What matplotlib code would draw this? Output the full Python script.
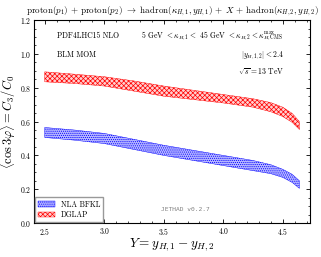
import matplotlib
matplotlib.use('Agg')
import matplotlib.pyplot as plt
import numpy as np
from matplotlib.ticker import MultipleLocator

plt.rcParams['font.family'] = 'serif'
plt.rcParams['font.serif'] = ['cmr10', 'DejaVu Serif']
plt.rcParams['mathtext.fontset'] = 'cm'
plt.rcParams['axes.formatter.use_mathtext'] = True
plt.rcParams['hatch.linewidth'] = 0.5

# rapidity interval Y
Y = [2.5, 2.75, 3.0, 3.25, 3.5, 3.75, 4.0, 4.25, 4.4, 4.5, 4.58, 4.64]
# NLA BFKL band
bfkl_hi = [0.565, 0.55, 0.53, 0.495, 0.46, 0.43, 0.40, 0.37, 0.345, 0.318, 0.288, 0.25]
bfkl_lo = [0.506, 0.49, 0.47, 0.435, 0.40, 0.37, 0.34, 0.31, 0.292, 0.27, 0.24, 0.205]
# DGLAP band
dglap_hi = [0.894, 0.88, 0.865, 0.84, 0.81, 0.785, 0.76, 0.735, 0.712, 0.685, 0.648, 0.60]
dglap_lo = [0.835, 0.825, 0.81, 0.78, 0.75, 0.73, 0.71, 0.685, 0.658, 0.63, 0.595, 0.553]

fig = plt.figure(figsize=(3.21, 2.57), dpi=100)
ax = fig.add_axes([0.106, 0.132, 0.86, 0.79])

ax.fill_between(Y, bfkl_lo, bfkl_hi, facecolor='#b8b8ff', edgecolor='blue',
                hatch='........', linewidth=0.3, label='NLA BFKL')
ax.fill_between(Y, dglap_lo, dglap_hi, facecolor='#ffd0d0', edgecolor='red',
                hatch='xxxxxxx', linewidth=0.3, label='DGLAP')

ax.set_xlim(2.41, 4.73)
ax.set_ylim(0.0, 1.2)
ax.xaxis.set_major_locator(MultipleLocator(0.5))
ax.xaxis.set_minor_locator(MultipleLocator(0.1))
ax.yaxis.set_major_locator(MultipleLocator(0.2))
ax.yaxis.set_minor_locator(MultipleLocator(0.05))
ax.tick_params(which='both', direction='in', top=True, right=True, labelsize=5.5, pad=2)
ax.tick_params(which='major', length=3, width=0.6)
ax.tick_params(which='minor', length=1.5, width=0.5)
for s in ax.spines.values():
    s.set_linewidth(0.8)

ax.set_xlabel(r'$Y = y_{H,1} - y_{H,2}$', fontsize=9.5, labelpad=0)
ax.set_ylabel(r'$\langle \cos 3\varphi \rangle = C_3/C_0$', fontsize=9, labelpad=1)
ax.set_title(r'proton$(p_1)$ + proton$(p_2)$ $\to$ hadron$(\kappa_{H,1}, y_{H,1})$ + $X$ + hadron$(\kappa_{H,2}, y_{H,2})$',
             fontsize=6.5, pad=5)

ax.text(0.085, 0.91, 'PDF4LHC15 NLO', transform=ax.transAxes, fontsize=5.5)
ax.text(0.085, 0.82, 'BLM MOM', transform=ax.transAxes, fontsize=5.5)
ax.text(0.905, 0.91, r'5 GeV $< \kappa_{H,1} <$ 45 GeV $< \kappa_{H,2} < \kappa_{H,{\rm CMS}}^{\rm max}$',
        transform=ax.transAxes, fontsize=5.5, ha='right')
ax.text(0.905, 0.82, r'$|y_{H,1,2}| < 2.4$', transform=ax.transAxes, fontsize=5.5, ha='right')
ax.text(0.905, 0.73, r'$\sqrt{s} = 13$ TeV', transform=ax.transAxes, fontsize=5.5, ha='right')
ax.text(0.55, 0.06, 'JETHAD v0.2.7', transform=ax.transAxes, fontsize=4.5,
        family='DejaVu Sans Mono', color='gray', ha='center')

ax.legend(loc='lower left', fontsize=5.5, frameon=True, fancybox=False,
          edgecolor='#999999', framealpha=1, handlelength=2.2, borderpad=0.4,
          labelspacing=0.3, borderaxespad=0.1)

fig.savefig('out.png', dpi=100)
